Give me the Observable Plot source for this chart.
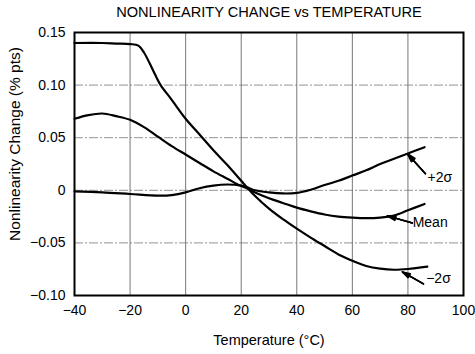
<!DOCTYPE html>
<html>
<head>
<meta charset="utf-8">
<script src="https://cdn.jsdelivr.net/npm/d3@7"></script>
<script src="https://cdn.jsdelivr.net/npm/@observablehq/plot@0.6"></script>
<style>
  html, body { margin: 0; padding: 0; background: #fff; }
  #chart svg { display: block; }
</style>
</head>
<body>
<div id="chart"></div>
<script>
// ---- data ----
const title = "NONLINEARITY CHANGE vs TEMPERATURE";
const xLabel = "Temperature (°C)";
const yLabel = "Nonlinearity Change (% pts)";

const xTicks = [-40, -20, 0, 20, 40, 60, 80, 100];
const xTickLabels = ["−40", "−20", "0", "20", "40", "60", "80", "100"];
const yTicks = [-0.10, -0.05, 0, 0.05, 0.10, 0.15];
const yTickLabels = ["−0.10", "−0.05", "0", "0.05", "0.10", "0.15"];

// -2σ curve
const minus2sT = [-40, -30, -25, -20, -17, -15, -13, -11, -9, -5, 0, 5, 10, 15, 20, 22, 25, 30, 35, 40, 45, 50, 55, 60, 65, 70, 75, 80, 87];
const minus2sV = [0.140, 0.140, 0.1395, 0.139, 0.1375, 0.131, 0.121, 0.110, 0.100, 0.086, 0.068, 0.053, 0.038, 0.024, 0.009, 0.003, -0.0055, -0.0175, -0.0275, -0.0365, -0.045, -0.053, -0.061, -0.067, -0.072, -0.0745, -0.0755, -0.0748, -0.0725];

// Mean curve
const meanT = [-40, -35, -30, -25, -20, -15, -10, -5, 0, 5, 10, 15, 20, 22, 25, 30, 35, 40, 45, 50, 55, 60, 65, 70, 75, 80, 86];
const meanV = [0.068, 0.0715, 0.073, 0.0705, 0.067, 0.060, 0.051, 0.042, 0.034, 0.026, 0.018, 0.011, 0.004, 0.002, -0.002, -0.0075, -0.012, -0.0165, -0.020, -0.023, -0.025, -0.026, -0.0265, -0.026, -0.024, -0.019, -0.013];

// +2σ curve
const plus2sT = [-40, -30, -20, -10, -5, 0, 5, 10, 15, 20, 22, 25, 30, 35, 40, 45, 50, 55, 60, 65, 70, 75, 80, 86];
const plus2sV = [-0.001, -0.002, -0.0035, -0.005, -0.0045, -0.002, 0.002, 0.0045, 0.0055, 0.0045, 0.003, 0.0, -0.002, -0.003, -0.0025, 0.0005, 0.005, 0.009, 0.014, 0.019, 0.025, 0.030, 0.035, 0.041];

// annotation labels and arrows (data coordinates)
const annLabels = ["+2σ", "Mean", "−2σ"];
const annTextT = [91.5, 88, 91];
const annTextV = [0.012, -0.031, -0.0835];
const annArrowT1 = [86.3, 81.6, 85.6];
const annArrowV1 = [0.0157, -0.031, -0.089];
const annArrowT2 = [79.8, 72.6, 78];
const annArrowV2 = [0.0348, -0.0243, -0.0776];

// ---- build ----
const toRows = (T, V) => T.map((t, i) => ({t, v: V[i]}));
const curves = [toRows(minus2sT, minus2sV), toRows(meanT, meanV), toRows(plus2sT, plus2sV)];
const ann = annLabels.map((label, i) => ({
  label, tx: annTextT[i], ty: annTextV[i],
  x1: annArrowT1[i], y1: annArrowV1[i], x2: annArrowT2[i], y2: annArrowV2[i]
}));

const fmtX = d => xTickLabels[xTicks.findIndex(t => Math.abs(t - d) < 1e-9)];
const fmtY = d => yTickLabels[yTicks.findIndex(t => Math.abs(t - d) < 1e-9)];

// stacked arrowheads of decreasing angle give a filled-looking head
const arrowMarks = [10, 20, 32].map(a =>
  Plot.arrow(ann, {x1: "x1", y1: "y1", x2: "x2", y2: "y2", stroke: "#000", strokeWidth: 1.5, headLength: 9, headAngle: a})
);

const chart = Plot.plot({
  width: 475,
  height: 354,
  marginTop: 32,
  marginLeft: 74,
  marginRight: 12,
  marginBottom: 59,
  style: {fontFamily: "'Liberation Sans', Arial, Helvetica, sans-serif", fontSize: "14px", color: "#000", background: "#fff"},
  x: {domain: [-40, 100]},
  y: {domain: [-0.10, 0.15]},
  marks: [
    Plot.ruleX(xTicks.slice(1, -1), {stroke: "#555", strokeWidth: 0.8}),
    Plot.ruleY(yTicks.slice(1, -1), {stroke: "#777", strokeWidth: 0.8, strokeDasharray: "9,2,2,2"}),
    ...curves.map(c => Plot.line(c, {x: "t", y: "v", curve: "catmull-rom", stroke: "#000", strokeWidth: 2.2})),
    Plot.frame({stroke: "#000", strokeWidth: 2}),
    Plot.axisX({ticks: xTicks, tickSize: 0, tickPadding: 10, tickFormat: fmtX, label: null, fontSize: 14}),
    Plot.axisY({ticks: yTicks, tickSize: 0, tickPadding: 9, tickFormat: fmtY, label: null, fontSize: 14}),
    ...arrowMarks,
    Plot.text(ann, {x: "tx", y: "ty", text: "label", fontSize: 14, fill: "#000"}),
    Plot.text([xLabel], {frameAnchor: "bottom", lineAnchor: "middle", dy: 45, fontSize: 14.5, fill: "#000"}),
    Plot.text([yLabel], {frameAnchor: "left", textAnchor: "middle", lineAnchor: "middle", rotate: -90, dx: -59, dy: -20, fontSize: 15.5, fill: "#000"}),
    Plot.text([title], {frameAnchor: "top", lineAnchor: "middle", dy: -20, fontSize: 14.6, fill: "#000"})
  ]
});
document.getElementById("chart").appendChild(chart);
</script>
</body>
</html>
